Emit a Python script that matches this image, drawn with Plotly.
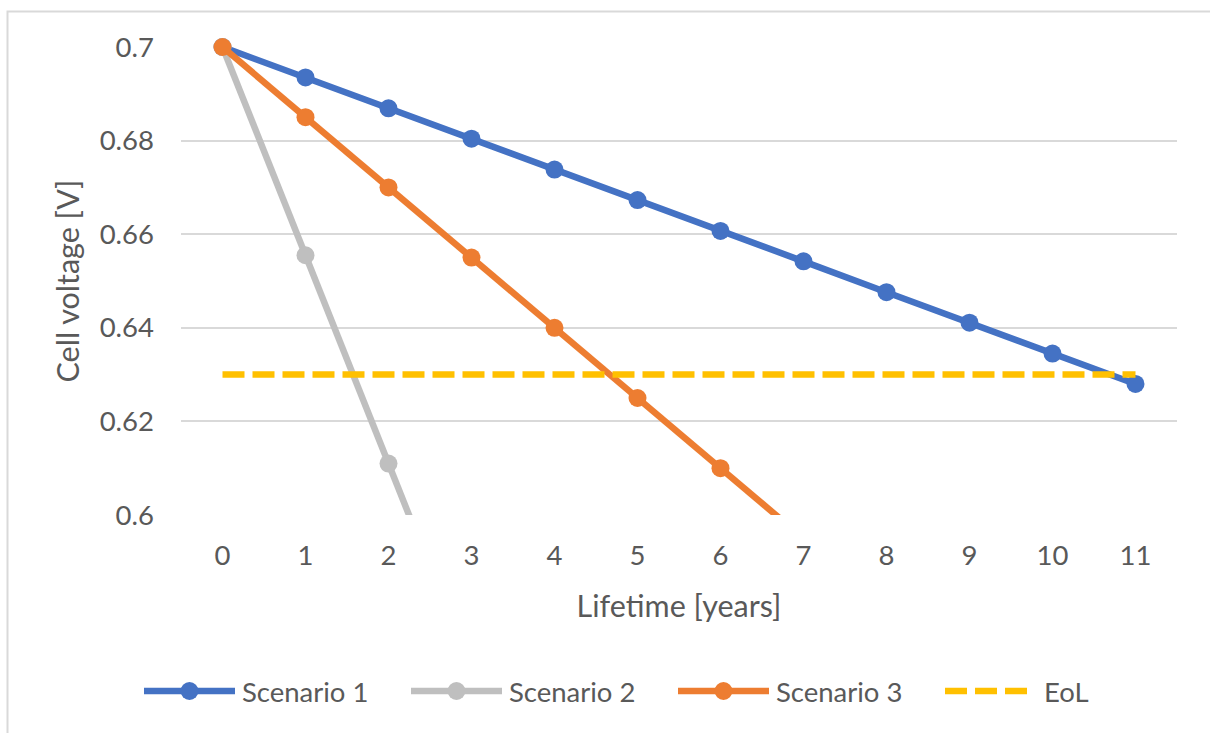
import numpy as np
import plotly.graph_objects as go

# Lifetime axis categories (years)
years = [0, 1, 2, 3, 4, 5, 6, 7, 8, 9, 10, 11]

# Cell voltage per scenario [V]
scenario_1 = [0.7, 0.6935, 0.6869, 0.6804, 0.6738, 0.6673, 0.6607, 0.6542, 0.6476, 0.6411, 0.6345, 0.628]
scenario_2 = [0.7, 0.6555, 0.611, 0.5665, 0.522, 0.4775, 0.433, 0.3885, 0.344, 0.2995, 0.255, 0.2105]
scenario_3 = [0.7, 0.685, 0.67, 0.655, 0.64, 0.625, 0.61, 0.595, 0.58, 0.565, 0.55, 0.535]
eol = [0.63] * 12

y_ticks = [0.6, 0.62, 0.64, 0.66, 0.68, 0.7]
y_tick_labels = ["0.6", "0.62", "0.64", "0.66", "0.68", "0.7"]

Y_MIN, Y_MAX = 0.6, 0.7
FONT = "Lato, 'Open Sans', sans-serif"
TEXT = "#595959"
GRID = "#D9D9D9"
MARKER = 18
LINE_W = 6.5
TICK_SIZE = 27.5
TITLE_SIZE = 30.5

# figure / plot-area geometry in pixels
W, H = 1210, 733
L, R, T, B = 181, 33, 47, 218
PW, PH = W - L - R, H - T - B


def px_x(x):
    return (x - L) / PW


def px_y(y):
    return (H - B - y) / PH


def marker_sizes(values):
    # hide markers that fall outside the value axis
    v = np.asarray(values)
    return np.where((v >= Y_MIN - 1e-9) & (v <= Y_MAX + 1e-9), MARKER, 0).tolist()


series = [
    ("Scenario 1", scenario_1, "#4472C4", "solid", True),
    ("Scenario 2", scenario_2, "#BFBFBF", "solid", True),
    ("Scenario 3", scenario_3, "#ED7D31", "solid", True),
    ("EoL", eol, "#FFC000", "22px,8px", False),
]

fig = go.Figure()
for name, values, color, dash, with_markers in series:
    fig.add_trace(go.Scatter(
        x=years, y=values, name=name,
        mode="lines+markers" if with_markers else "lines",
        line=dict(color=color, width=LINE_W, dash=dash),
        marker=dict(color=color, size=marker_sizes(values), opacity=1, line=dict(width=0)),
        cliponaxis=False, showlegend=False,
    ))

# chart frame
shapes = [dict(
    type="rect", xref="paper", yref="paper",
    x0=px_x(7.5), x1=px_x(1250), y0=px_y(770), y1=px_y(11.5),
    line=dict(color=GRID, width=2), fillcolor="rgba(0,0,0,0)", layer="below",
)]

# legend row below the plot: key line, optional dot, label
annotations = []
legend_y = px_y(691)
key_starts = [144, 411, 678, 945]
for (name, values, color, dash, with_markers), x0 in zip(series, key_starts):
    key_len = 91 if with_markers else 82
    shapes.append(dict(
        type="line", xref="paper", yref="paper",
        x0=px_x(x0), x1=px_x(x0 + key_len), y0=legend_y, y1=legend_y,
        line=dict(color=color, width=LINE_W, dash=dash),
    ))
    if with_markers:
        shapes.append(dict(
            type="circle", xref="paper", yref="paper",
            xsizemode="pixel", ysizemode="pixel",
            xanchor=px_x(x0 + key_len / 2), yanchor=legend_y,
            x0=-MARKER / 2, x1=MARKER / 2, y0=-MARKER / 2, y1=MARKER / 2,
            fillcolor=color, line=dict(width=0),
        ))
    annotations.append(dict(
        text=name, xref="paper", yref="paper",
        x=px_x(x0 + 96 if with_markers else x0 + 97), y=legend_y,
        xanchor="left", yanchor="middle", showarrow=False,
        font=dict(size=TICK_SIZE, color=TEXT, family=FONT),
    ))

fig.update_layout(
    width=W, height=H,
    margin=dict(l=L, r=R, t=T, b=B),
    paper_bgcolor="white", plot_bgcolor="white",
    font=dict(family=FONT, color=TEXT, size=TICK_SIZE),
    showlegend=False,
    xaxis=dict(
        range=[-0.5, 11.5], tickmode="array", tickvals=years,
        ticktext=[str(y) for y in years],
        showgrid=False, zeroline=False, showline=False,
        ticks="", ticklabelstandoff=21, tickfont=dict(size=TICK_SIZE),
        title=dict(text="Lifetime [years]", standoff=26, font=dict(size=TITLE_SIZE)),
    ),
    yaxis=dict(
        range=[Y_MIN, Y_MAX], tickmode="array", tickvals=y_ticks, ticktext=y_tick_labels,
        showgrid=True, gridcolor=GRID, gridwidth=2, zeroline=False, showline=False,
        ticks="", ticklabelstandoff=26, tickfont=dict(size=TICK_SIZE),
        title=dict(text="Cell voltage [V]", standoff=10, font=dict(size=TITLE_SIZE)),
    ),
    shapes=shapes,
    annotations=annotations,
)

fig.write_html("out.html")
